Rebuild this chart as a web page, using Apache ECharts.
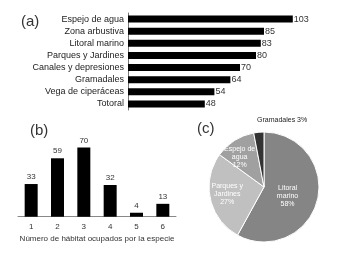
<!DOCTYPE html>
<html>
<head>
<meta charset="utf-8">
<script src="https://cdn.jsdelivr.net/npm/echarts@6/dist/echarts.min.js"></script>
<style>
  html, body { margin: 0; padding: 0; background: #fff; }
  #main { width: 337px; height: 262px; }
</style>
</head>
<body>
<div id="main"></div>
<script>
// (a) habitats
var habitats = [
  "Espejo de agua",
  "Zona arbustiva",
  "Litoral marino",
  "Parques y Jardines",
  "Canales y depresiones",
  "Gramadales",
  "Vega de ciperáceas",
  "Totoral",
];
var habitatCounts = [103, 85, 83, 80, 70, 64, 54, 48];

// (b) número de hábitat ocupados
var nHabitat = ["1", "2", "3", "4", "5", "6"];
var nSpecies = [33, 59, 70, 32, 4, 13];

// (c) pie
var pieNames = ["Litoral\nmarino", "Parques y\nJardines", "Espejo de\nagua", "Gramadales"];
var piePercent = [58, 27, 12, 3];
var pieColors = ["#858585", "#c0c0c0", "#a0a0a0", "#333333"];

var font = "Liberation Sans, Arial, sans-serif";

var myChart = echarts.init(document.getElementById("main"), null, { renderer: "canvas" });

var titleStyle = { fontSize: 15, fontWeight: "normal", color: "#333", fontFamily: font };

var option = {
  animation: false,
  textStyle: { fontFamily: font },
  title: [
    { text: "(a)", left: 16, top: 9, textStyle: titleStyle },
    { text: "(b)", left: 25, top: 118, textStyle: titleStyle },
    { text: "(c)", left: 192, top: 116, textStyle: titleStyle },
  ],
  grid: [
    { left: 128, top: 13, width: 192, height: 97 },
    { left: 18, top: 137.5, width: 158, height: 79.2 },
  ],
  xAxis: [
    {
      gridIndex: 0,
      type: "value",
      min: 0,
      max: 120,
      show: false,
    },
    {
      gridIndex: 1,
      type: "category",
      data: nHabitat,
      axisLine: { lineStyle: { color: "#888", width: 1 } },
      axisTick: { show: false },
      axisLabel: { fontSize: 8, color: "#333", margin: 6 },
      name: "Número de hábitat ocupados por la especie",
      nameLocation: "middle",
      nameGap: 18,
      nameTextStyle: { fontSize: 8, color: "#333" },
    },
  ],
  yAxis: [
    {
      gridIndex: 0,
      type: "category",
      data: habitats,
      inverse: true,
      axisLine: { lineStyle: { color: "#777", width: 1 } },
      axisTick: { show: false },
      axisLabel: { fontSize: 9, color: "#222", margin: 4 },
    },
    {
      gridIndex: 1,
      type: "value",
      min: 0,
      max: 80,
      show: false,
    },
  ],
  series: [
    {
      type: "bar",
      xAxisIndex: 0,
      yAxisIndex: 0,
      data: habitatCounts,
      barWidth: 7,
      itemStyle: { color: "#000" },
      label: { show: true, position: "right", distance: 1, fontSize: 9, color: "#333" },
    },
    {
      type: "bar",
      xAxisIndex: 1,
      yAxisIndex: 1,
      data: nSpecies,
      barWidth: 13,
      itemStyle: { color: "#000" },
      label: { show: true, position: "top", distance: 3, fontSize: 8, color: "#333" },
    },
    {
      type: "pie",
      center: [264, 187],
      radius: 55,
      startAngle: 90,
      clockwise: true,
      data: pieNames.map(function (n, i) {
        return { name: n, value: piePercent[i], itemStyle: { color: pieColors[i] } };
      }),
      itemStyle: { borderColor: "#fff", borderWidth: 1 },
      label: {
        show: true,
        position: "inside",
        formatter: function (p) {
          if (p.dataIndex === 3) return p.name + " " + p.value + "%";
          return p.name + "\n" + p.value + "%";
        },
        fontSize: 7,
        lineHeight: 8,
        color: "#fff",
      },
      labelLine: { show: false },
      labelLayout: function (p) {
        if (p.dataIndex === 0) return { dx: -6, dy: 1 };
        if (p.dataIndex === 1) return { dx: -7, dy: 0 };
        if (p.dataIndex === 2) return { dx: -8, dy: -4 };
        return { x: 257, y: 120, align: "left", verticalAlign: "middle" };
      },
    },
  ],
};

option.series[2].data[3].label = { color: "#222" };

myChart.setOption(option);
</script>
</body>
</html>
